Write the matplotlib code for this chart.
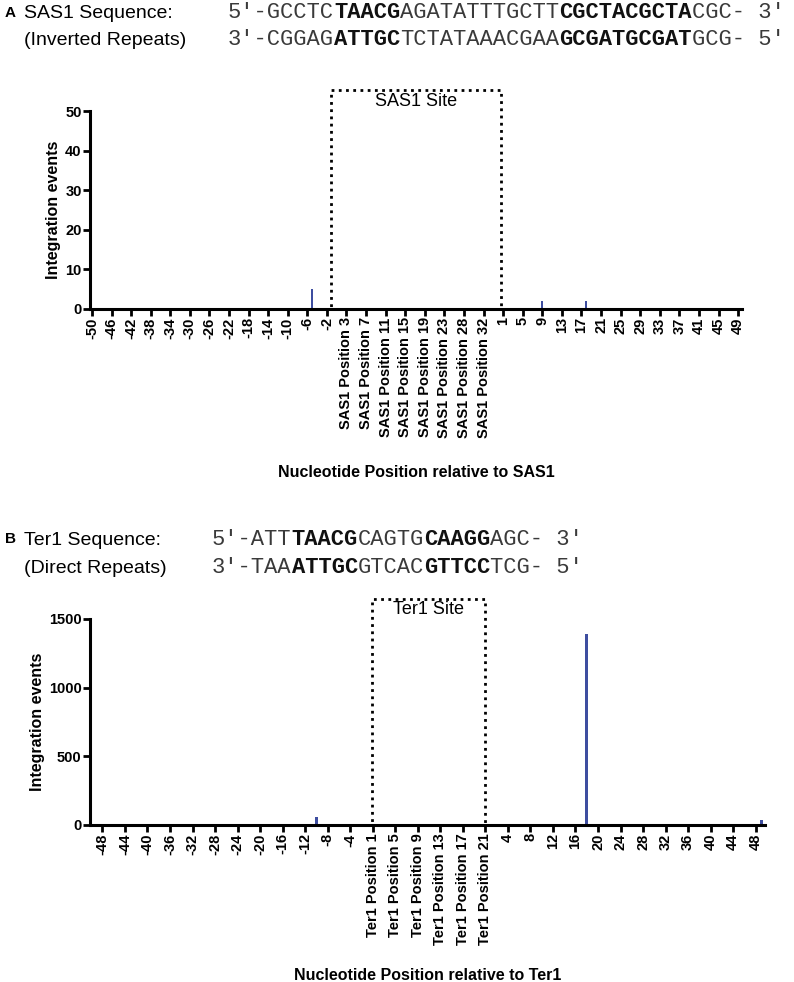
import matplotlib.pyplot as plt
from matplotlib.patches import Rectangle

plt.rcParams['font.family'] = ['Liberation Sans', 'DejaVu Sans']

# ---- panel A data (SAS1) ----
sas1_upstream = [str(p) for p in range(-50, 0)]
sas1_site = ["SAS1 Position %d" % p for p in range(1, 36) if p != 24]
sas1_downstream = [str(p) for p in range(1, 50)]
sas1_event_labels = ["-5", "9", "18"]
sas1_event_counts = [5, 2, 2]
sas1_yticks = [0, 10, 20, 30, 40, 50]

# ---- panel B data (Ter1) ----
ter1_upstream = [str(p) for p in range(-50, 0)]
ter1_site = ["Ter1 Position %d" % p for p in range(1, 22)]
ter1_downstream = [str(p) for p in range(1, 50)]
ter1_event_labels = ["-10", "18", "49"]
ter1_event_counts = [60, 1390, 35]
ter1_yticks = [0, 500, 1000, 1500]

# sequences: (text, bold)
sas1_top = [("5'-GCCTC", False), ("TAACG", True), ("AGATATTTGCTT", False),
            ("CGCTACGCTA", True), ("CGC- 3'", False)]
sas1_bot = [("3'-CGGAG", False), ("ATTGC", True), ("TCTATAAACGAA", False),
            ("GCGATGCGAT", True), ("GCG- 5'", False)]
ter1_top = [("5'-ATT", False), ("TAACG", True), ("CAGTG", False),
            ("CAAGG", True), ("AGC- 3'", False)]
ter1_bot = [("3'-TAA", False), ("ATTGC", True), ("GTCAC", False),
            ("GTTCC", True), ("TCG- 5'", False)]

BAR = '#3e4ea0'
W, H = 794, 982
fig = plt.figure(figsize=(W / 100, H / 100), dpi=100)


def px_axes(l, t, r, b):
    return fig.add_axes([l / W, 1 - b / H, (r - l) / W, (b - t) / H])


def seq_line(x, y, segments, size=15.9):
    cw = 0.6 * size * 100 / 72  # monospace advance in px
    n = 0
    for txt, bold in segments:
        fig.text((x + n * cw) / W, 1 - y / H, txt, family='Liberation Mono',
                 fontsize=size, fontweight='bold' if bold else 'normal',
                 va='baseline', ha='left',
                 color='#111111' if bold else '#3a3a3a')
        n += len(txt)


def panel(ax, cats, ev_labels, ev_counts, yticks, xlim, first_tick,
          box_span, box_top, site_text, text_top, xlabel, xlabel_y):
    heights = [0] * len(cats)
    for lab, c in zip(ev_labels, ev_counts):
        heights[cats.index(lab)] = c
    ax.bar(range(len(cats)), heights, width=0.45, color=BAR, linewidth=0)
    ax.set_xlim(*xlim)
    ax.set_ylim(0, yticks[-1])
    ax.set_yticks(yticks)
    ticks = list(range(first_tick, len(cats), 4))
    ax.set_xticks(ticks)
    ax.set_xticklabels([cats[i] for i in ticks], rotation=90, va='top',
                       ha='center', fontweight='bold', fontsize=10.5)
    for lab in ax.get_yticklabels():
        lab.set_fontweight('bold')
        lab.set_fontsize(10.5)
    for s in ['top', 'right']:
        ax.spines[s].set_visible(False)
    for s in ['left', 'bottom']:
        ax.spines[s].set_linewidth(2.2)
    ax.tick_params(axis='both', direction='out', length=5, width=2, pad=1)
    ax.set_ylabel('Integration events', fontsize=11.5, fontweight='bold',
                  labelpad=3)
    ax.set_xlabel(xlabel, fontsize=11.5, fontweight='bold')
    ax.xaxis.set_label_coords(0.5, xlabel_y)
    x0, x1 = box_span
    ax.add_patch(Rectangle((x0, 0), x1 - x0, box_top, fill=False, ec='black',
                           lw=2, ls=(0, (1, 1.6)), clip_on=False, zorder=3))
    ax.text((x0 + x1) / 2, text_top, site_text, ha='center', va='top',
            fontsize=13, clip_on=False)


# ---- header A ----
fig.text(5 / W, 1 - 17 / H, 'A', fontsize=11, fontweight='bold', va='baseline')
fig.text(24 / W, 1 - 18 / H, 'SAS1 Sequence:', fontsize=14, va='baseline')
fig.text(24 / W, 1 - 45 / H, '(Inverted Repeats)', fontsize=14, va='baseline')
seq_line(228, 18, sas1_top)
seq_line(228, 45, sas1_bot)

axA = px_axes(90, 111, 742, 309)
panel(axA, sas1_upstream + sas1_site + sas1_downstream,
      sas1_event_labels, sas1_event_counts, sas1_yticks,
      (-0.4, 132.8), 0, (48.9, 83.5), 55.3, 'SAS1 Site', 54.6,
      'Nucleotide Position relative to SAS1', -0.79)

# ---- header B ----
fig.text(5 / W, 1 - 543 / H, 'B', fontsize=11, fontweight='bold', va='baseline')
fig.text(24 / W, 1 - 545 / H, 'Ter1 Sequence:', fontsize=14, va='baseline')
fig.text(24 / W, 1 - 573 / H, '(Direct Repeats)', fontsize=14, va='baseline')
seq_line(212, 545, ter1_top)
seq_line(212, 573, ter1_bot)

axB = px_axes(90, 619, 765, 825)
panel(axB, ter1_upstream + ter1_site + ter1_downstream,
      ter1_event_labels, ter1_event_counts, ter1_yticks,
      (-0.2, 119.65), 2, (49.8, 70.0), 1648, 'Ter1 Site', 1630,
      'Nucleotide Position relative to Ter1', -0.695)

fig.savefig('out.png', dpi=100)
